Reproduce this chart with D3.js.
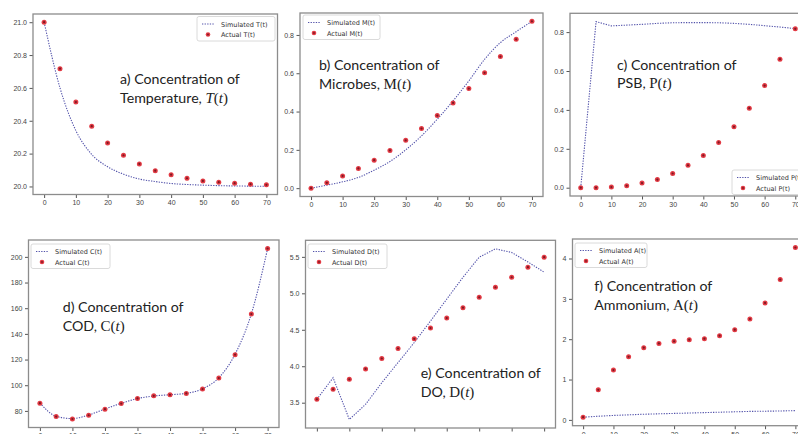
<!DOCTYPE html>
<html>
<head>
<meta charset="utf-8">
<title>Simulated vs actual concentrations</title>
<script src="https://d3js.org/d3.v7.min.js"></script>
<style>
  body { margin: 0; background: #fff; }
  svg { display: block; font-family: "DejaVu Sans", sans-serif; }
  .tick text { fill: #444; font-size: 7px; }
  .tick line { stroke: #555; }
  .note { font-family: Lato, "Open Sans", sans-serif; font-size: 14.2px; fill: #222; }
  .math { font-family: "Liberation Serif", "DejaVu Serif", serif; font-size: 15px; }
  .legend text { font-size: 6.5px; fill: #333; }
</style>
</head>
<body>
<div id="chart"></div>
<script>
// time points (days)
const times = [0, 5, 10, 15, 20, 25, 30, 35, 40, 45, 50, 55, 60, 65, 70];
const xTicks = [0, 10, 20, 30, 40, 50, 60, 70];

// a) temperature
const tempSim = [21.0, 20.60, 20.34, 20.195, 20.12, 20.075, 20.045, 20.03, 20.018, 20.012, 20.008, 20.005, 20.003, 20.002, 20.001];
const tempAct = [21.0, 20.717, 20.514, 20.367, 20.265, 20.19, 20.137, 20.096, 20.072, 20.05, 20.034, 20.026, 20.02, 20.014, 20.01];
const tempTicks = [20.0, 20.2, 20.4, 20.6, 20.8, 21.0];

// b) microbes
const micSim = [0.0, 0.016, 0.033, 0.056, 0.094, 0.139, 0.2, 0.273, 0.36, 0.456, 0.56, 0.673, 0.76, 0.817, 0.871];
const micAct = [0.0, 0.028, 0.064, 0.103, 0.146, 0.197, 0.25, 0.311, 0.379, 0.445, 0.52, 0.602, 0.687, 0.777, 0.871];
const micTicks = [0.0, 0.2, 0.4, 0.6, 0.8];

// c) PSB
const psbSim = [0.0, 0.854, 0.832, 0.836, 0.84, 0.845, 0.848, 0.849, 0.849, 0.848, 0.845, 0.84, 0.833, 0.826, 0.818];
const psbAct = [0.0, 0.0, 0.003, 0.01, 0.024, 0.042, 0.073, 0.115, 0.166, 0.233, 0.313, 0.409, 0.525, 0.661, 0.817];
const psbTicks = [0.0, 0.2, 0.4, 0.6, 0.8];

// d) COD
const codSim = [86.2, 75.8, 74.0, 76.8, 81.5, 85.9, 89.6, 91.6, 92.6, 93.7, 97.2, 105.8, 124.2, 155.6, 206.4];
const codAct = [86.0, 75.6, 73.7, 76.6, 81.3, 85.7, 89.7, 91.7, 92.5, 93.6, 97.0, 105.6, 123.8, 155.4, 206.5];
const codTicks = [80, 100, 120, 140, 160, 180, 200];

// e) DO
const doSim = [3.546, 3.843, 3.27, 3.477, 3.774, 4.05, 4.325, 4.62, 4.92, 5.22, 5.495, 5.61, 5.56, 5.43, 5.29];
const doAct = [3.546, 3.683, 3.821, 3.963, 4.106, 4.243, 4.376, 4.523, 4.66, 4.803, 4.945, 5.083, 5.22, 5.358, 5.495];
const doTicks = [3.5, 4.0, 4.5, 5.0, 5.5];

// f) ammonium
const ammSim = [0.066, 0.09, 0.11, 0.125, 0.14, 0.15, 0.16, 0.17, 0.18, 0.19, 0.2, 0.21, 0.215, 0.22, 0.23];
const ammAct = [0.066, 0.745, 1.234, 1.565, 1.789, 1.896, 1.946, 1.988, 2.012, 2.087, 2.236, 2.5, 2.899, 3.478, 4.273];
const ammTicks = [0, 1, 2, 3, 4];

const width = 798, height = 434;

const svg = d3.select("#chart").append("svg")
    .attr("width", width)
    .attr("height", height);

// frame box, legend box, note position for each panel
const panels = [
  { sim: tempSim, act: tempAct, yTicks: tempTicks, fmt: ".1f", smooth: true,
    box: [33, 14, 277.5, 194.5], legend: [197, 16.5, 78], sym: "T(t)",
    note: [120, 84, "a) Concentration of", "Temperature, ", "T", true] },
  { sim: micSim, act: micAct, yTicks: micTicks, fmt: ".1f", smooth: true,
    box: [300, 13, 543, 196.5], legend: [303, 15, 77], sym: "M(t)",
    note: [319, 70, "b) Concentration of", "Microbes, ", "M", false] },
  { sim: psbSim, act: psbAct, yTicks: psbTicks, fmt: ".1f", smooth: false,
    box: [570, 13.3, 806, 196], legend: [732, 170, 74], sym: "P(t)",
    note: [617, 69.5, "c) Concentration of", "PSB, ", "P", false] },
  { sim: codSim, act: codAct, yTicks: codTicks, fmt: "d", smooth: true,
    box: [28.5, 240, 279, 427.5], legend: [31, 244, 79], sym: "C(t)",
    note: [62.7, 312.3, "d) Concentration of", "COD, ", "C", false] },
  { sim: doSim, act: doAct, yTicks: doTicks, fmt: ".1f", smooth: false,
    box: [305.5, 240.3, 555.5, 428], legend: [308, 244, 79], sym: "D(t)",
    note: [420.7, 378.3, "e) Concentration of", "DO, ", "D", false] },
  { sim: ammSim, act: ammAct, yTicks: ammTicks, fmt: "d", smooth: false,
    box: [572.5, 239, 806, 425.7], legend: [575, 243, 72], sym: "A(t)",
    note: [594.3, 291, "f) Concentration of", "Ammonium, ", "A", false] }
];

panels.forEach(p => {
  const [x0, y0, x1, y1] = p.box;
  const g = svg.append("g");

  // matplotlib-like 5% margins
  const xr = d3.extent(times);
  const xm = (xr[1] - xr[0]) * 0.05;
  const yr = d3.extent(p.sim.concat(p.act));
  const ym = (yr[1] - yr[0]) * 0.05;

  const x = d3.scaleLinear().domain([xr[0] - xm, xr[1] + xm]).range([x0, x1]);
  const y = d3.scaleLinear().domain([yr[0] - ym, yr[1] + ym]).range([y1, y0]);

  g.append("g")
      .attr("transform", "translate(0," + y1 + ")")
      .call(d3.axisBottom(x).tickValues(xTicks).tickSize(3.5).tickPadding(2.5))
      .call(a => a.select(".domain").remove());

  g.append("g")
      .attr("transform", "translate(" + x0 + ",0)")
      .call(d3.axisLeft(y).tickValues(p.yTicks).tickSize(3.5).tickPadding(2.5).tickFormat(d3.format(p.fmt)))
      .call(a => a.select(".domain").remove());

  g.append("rect")
      .attr("x", x0).attr("y", y0)
      .attr("width", x1 - x0).attr("height", y1 - y0)
      .attr("fill", "none")
      .attr("stroke", "#8c8c8c")
      .attr("stroke-width", 1.3);

  const line = d3.line()
      .x((d, i) => x(times[i]))
      .y(d => y(d))
      .curve(p.smooth ? d3.curveMonotoneX : d3.curveLinear);

  g.append("path")
      .datum(p.sim)
      .attr("d", line)
      .attr("fill", "none")
      .attr("stroke", "#5252aa")
      .attr("stroke-width", 1.1)
      .attr("stroke-dasharray", "1.3,1.3");

  const dots = g.selectAll(".dot")
    .data(p.act)
    .join("g")
      .attr("transform", (d, i) => "translate(" + x(times[i]) + "," + y(d) + ")");
  dots.append("circle").attr("r", 2.5).attr("fill", "#e23a44");
  dots.append("circle").attr("r", 1.1).attr("fill", "#7d1822");

  // legend
  const [lx, ly, lw] = p.legend;
  const lg = g.append("g").attr("class", "legend");
  lg.append("rect")
      .attr("x", lx).attr("y", ly)
      .attr("width", lw).attr("height", 24.5)
      .attr("rx", 2)
      .attr("fill", "#fff")
      .attr("fill-opacity", 0.85)
      .attr("stroke", "#d0d0d0")
      .attr("stroke-width", 0.8);
  lg.append("line")
      .attr("x1", lx + 5).attr("x2", lx + 17)
      .attr("y1", ly + 7.5).attr("y2", ly + 7.5)
      .attr("stroke", "#5252aa")
      .attr("stroke-width", 1.1)
      .attr("stroke-dasharray", "1.3,1.3");
  lg.append("text").attr("x", lx + 24).attr("y", ly + 10).text("Simulated " + p.sym);
  const ld = lg.append("g").attr("transform", "translate(" + (lx + 11) + "," + (ly + 18) + ")");
  ld.append("circle").attr("r", 2.3).attr("fill", "#e23a44");
  ld.append("circle").attr("r", 0.9).attr("fill", "#7d1822");
  lg.append("text").attr("x", lx + 24).attr("y", ly + 20.5).text("Actual " + p.sym);

  // annotation
  const [nx, ny, l1, l2, v, italicV] = p.note;
  const t1 = g.append("text").attr("class", "note").attr("x", nx).attr("y", ny);
  t1.append("tspan").text(l1);
  const t2 = g.append("text").attr("class", "note").attr("x", nx).attr("y", ny + 18.5);
  t2.append("tspan").text(l2);
  t2.append("tspan").attr("class", "math").attr("font-style", italicV ? "italic" : "normal").text(v);
  t2.append("tspan").attr("class", "math").text("(");
  t2.append("tspan").attr("class", "math").attr("font-style", "italic").text("t");
  t2.append("tspan").attr("class", "math").text(")");
});
</script>
</body>
</html>
